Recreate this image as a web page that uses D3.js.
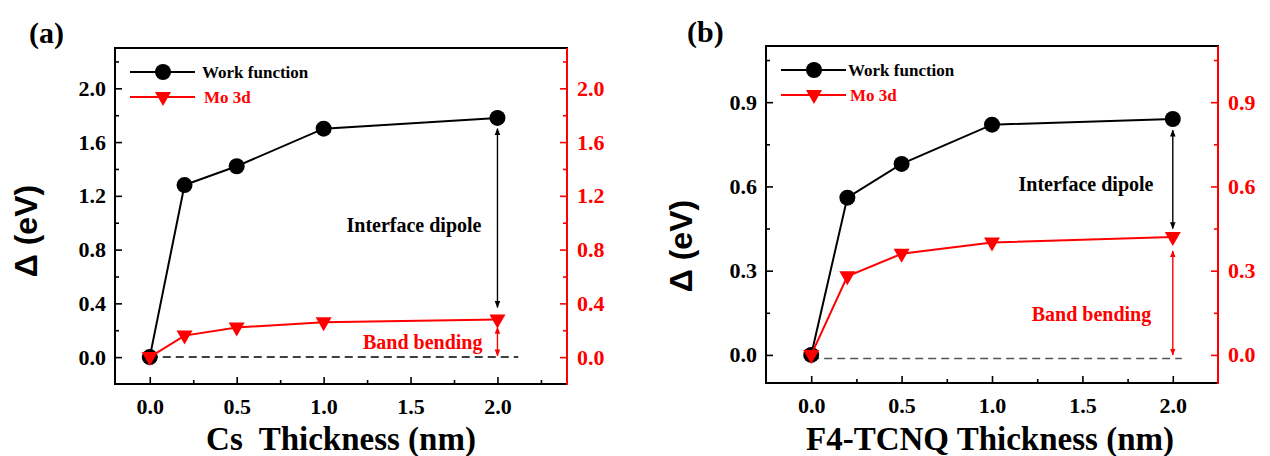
<!DOCTYPE html>
<html>
<head>
<meta charset="utf-8">
<script src="https://cdn.jsdelivr.net/npm/d3@7"></script>
<style>
  body { margin: 0; background: #fff; }
  svg { display: block; }
  .serif { font-family: "Liberation Serif", "Times New Roman", serif; font-weight: bold; }
</style>
</head>
<body>
<div id="chart"></div>
<script>
// data
const thickness = [0, 0.2, 0.5, 1.0, 2.0];

const workFunctionCs = [0, 1.28, 1.42, 1.70, 1.78];
const mo3dCs = [0, 0.16, 0.22, 0.26, 0.28];

const workFunctionF4 = [0, 0.56, 0.68, 0.82, 0.84];
const mo3dF4 = [0, 0.28, 0.36, 0.40, 0.42];

// ticks
const xTicks = [0, 0.5, 1.0, 1.5, 2.0];
const xMinorCs = [0.25, 0.75, 1.25, 1.75, 2.25];
const xMinorF4 = [0.25, 0.75, 1.25, 1.75];
const yTicksCs = [0, 0.4, 0.8, 1.2, 1.6, 2.0];
const yMinorCs = [0.2, 0.6, 1.0, 1.4, 1.8, 2.2];
const yTicksF4 = [0, 0.3, 0.6, 0.9];
const yMinorF4 = [0.15, 0.45, 0.75, 1.05];

// annotations (data units): [x, y1, y2]
const dipoleArrowCs = [2.0, 1.70, 0.37];
const bendArrowCs = [2.0, 0.22, 0.01];
const dipoleArrowF4 = [2.0, 0.80, 0.45];
const bendArrowF4 = [2.0, 0.37, 0.0];
const dipoleLabelCs = [1.52, 0.985];
const bendLabelCs = [1.57, 0.11];
const dipoleLabelF4 = [1.52, 0.61];
const bendLabelF4 = [1.55, 0.146];
const baseLineCs = [0, 2.12, 0];
const baseLineF4 = [0, 2.05, -0.013];

const red = '#ff0000';

const svg = d3.select('#chart').append('svg')
  .attr('width', 1270)
  .attr('height', 456);

svg.append('rect').attr('width', 1270).attr('height', 456).attr('fill', '#fff');

// arrow heads
const defs = svg.append('defs');
[['arrowBlack', '#000'], ['arrowRed', red]].forEach(([id, col]) => {
  defs.append('marker')
    .attr('id', id)
    .attr('viewBox', '0 0 10 10')
    .attr('refX', 9)
    .attr('refY', 5)
    .attr('markerWidth', 7)
    .attr('markerHeight', 7)
    .attr('markerUnits', 'userSpaceOnUse')
    .attr('orient', 'auto-start-reverse')
    .append('path')
    .attr('d', 'M0,1 L10,5 L0,9 Z')
    .attr('fill', col);
});

const triangle = 'M-8,-5 L8,-5 L0,9 Z';

function drawPanel(o) {
  const { left, top, right, bottom } = o.box;

  const x = d3.scaleLinear().domain(o.xDomain).range([left, right]);
  const y = d3.scaleLinear().domain(o.yDomain).range([bottom, top]);

  const g = svg.append('g');

  // frame
  g.append('rect')
    .attr('x', left).attr('y', top)
    .attr('width', right - left).attr('height', bottom - top)
    .attr('fill', 'none').attr('stroke', '#000').attr('stroke-width', 2);

  // axes, ticks point inward
  const styleAxis = (sel, col) => {
    sel.select('.domain').remove();
    sel.selectAll('line').attr('stroke', col).attr('stroke-width', 1.6);
    sel.selectAll('text')
      .attr('class', 'serif')
      .attr('font-size', 22)
      .attr('fill', col);
  };

  g.append('g')
    .attr('transform', `translate(0,${bottom})`)
    .call(d3.axisBottom(x).tickValues(xTicks).tickSize(-7).tickPadding(14).tickFormat(d3.format('.1f')))
    .call(s => styleAxis(s, '#000'));
  g.append('g')
    .attr('transform', `translate(0,${bottom})`)
    .call(d3.axisBottom(x).tickValues(o.xMinor).tickSize(-4).tickFormat(''))
    .call(s => styleAxis(s, '#000'));

  g.append('g')
    .attr('transform', `translate(${left},0)`)
    .call(d3.axisLeft(y).tickValues(o.yTicks).tickSize(-7).tickPadding(9).tickFormat(d3.format('.1f')))
    .call(s => styleAxis(s, '#000'));
  g.append('g')
    .attr('transform', `translate(${left},0)`)
    .call(d3.axisLeft(y).tickValues(o.yMinor).tickSize(-4).tickFormat(''))
    .call(s => styleAxis(s, '#000'));

  g.append('g')
    .attr('transform', `translate(${right},0)`)
    .call(d3.axisRight(y).tickValues(o.yTicks).tickSize(-7).tickPadding(10).tickFormat(d3.format('.1f')))
    .call(s => styleAxis(s, red));
  g.append('g')
    .attr('transform', `translate(${right},0)`)
    .call(d3.axisRight(y).tickValues(o.yMinor).tickSize(-4).tickFormat(''))
    .call(s => styleAxis(s, red));

  // red right spine
  g.append('line')
    .attr('x1', right).attr('x2', right)
    .attr('y1', top).attr('y2', bottom + 1)
    .attr('stroke', red).attr('stroke-width', 2);

  // zero reference line
  g.append('line')
    .attr('x1', x(o.baseLine[0])).attr('x2', x(o.baseLine[1]))
    .attr('y1', y(o.baseLine[2])).attr('y2', y(o.baseLine[2]))
    .attr('stroke', o.dashColor).attr('stroke-width', 1.5)
    .attr('stroke-dasharray', '8,5');

  // series
  const line = d3.line().x(d => x(d[0])).y(d => y(d[1]));
  const wf = thickness.map((t, i) => [t, o.workFunction[i]]);
  const mo = thickness.map((t, i) => [t, o.mo3d[i]]);

  g.append('path').datum(wf)
    .attr('d', line).attr('fill', 'none')
    .attr('stroke', '#000').attr('stroke-width', 2);
  g.selectAll('.wf-dot').data(wf).enter()
    .append('circle')
    .attr('class', 'wf-dot')
    .attr('cx', d => x(d[0])).attr('cy', d => y(d[1]))
    .attr('r', 8).attr('fill', '#000');

  g.append('path').datum(mo)
    .attr('d', line).attr('fill', 'none')
    .attr('stroke', red).attr('stroke-width', 2);
  g.selectAll('.mo-dot').data(mo).enter()
    .append('path')
    .attr('class', 'mo-dot')
    .attr('d', triangle)
    .attr('transform', d => `translate(${x(d[0])},${y(d[1])})`)
    .attr('fill', red);

  // double arrows
  const arrow = (a, col, id) => {
    g.append('line')
      .attr('x1', x(a[0])).attr('x2', x(a[0]))
      .attr('y1', y(a[1])).attr('y2', y(a[2]))
      .attr('stroke', col).attr('stroke-width', 1.4)
      .attr('marker-start', `url(#${id})`)
      .attr('marker-end', `url(#${id})`);
  };
  arrow(o.dipoleArrow, '#000', 'arrowBlack');
  arrow(o.bendArrow, red, 'arrowRed');

  g.append('text')
    .attr('class', 'serif')
    .attr('x', x(o.dipoleLabel[0])).attr('y', y(o.dipoleLabel[1]))
    .attr('dy', '0.35em')
    .attr('text-anchor', 'middle')
    .attr('font-size', 20)
    .text('Interface dipole');
  g.append('text')
    .attr('class', 'serif')
    .attr('x', x(o.bendLabel[0])).attr('y', y(o.bendLabel[1]))
    .attr('dy', '0.35em')
    .attr('text-anchor', 'middle')
    .attr('font-size', 20)
    .attr('fill', red)
    .text('Band bending');

  // legend
  const lg = g.append('g').attr('transform', `translate(${left},${top})`);
  const rows = [
    { label: 'Work function', col: '#000', dot: 'circle', dy: 24 },
    { label: 'Mo 3d', col: red, dot: 'tri', dy: 49 }
  ];
  rows.forEach(r => {
    lg.append('line')
      .attr('x1', 15).attr('x2', 80)
      .attr('y1', r.dy).attr('y2', r.dy)
      .attr('stroke', r.col).attr('stroke-width', 2);
    if (r.dot === 'circle') {
      lg.append('circle').attr('cx', 48).attr('cy', r.dy).attr('r', 8).attr('fill', r.col);
    } else {
      lg.append('path').attr('d', triangle)
        .attr('transform', `translate(48,${r.dy})`).attr('fill', r.col);
    }
    lg.append('text')
      .attr('class', 'serif')
      .attr('x', r.label === 'Mo 3d' ? o.legendTextX + 2 : o.legendTextX)
      .attr('y', r.dy).attr('dy', '0.35em')
      .attr('font-size', 17)
      .attr('fill', r.col)
      .text(r.label);
  });

  // titles
  svg.append('text')
    .attr('class', 'serif')
    .attr('x', o.tag[0]).attr('y', o.tag[1])
    .attr('font-size', 30)
    .text(o.tagText);

  svg.append('text')
    .attr('transform', `translate(${o.yTitle[0]},${o.yTitle[1]}) rotate(-90)`)
    .attr('text-anchor', 'middle')
    .attr('dy', '0.35em')
    .attr('font-family', '"Liberation Sans", Arial, sans-serif')
    .attr('font-weight', 'bold')
    .attr('font-size', 32)
    .text('\u0394 (eV)');

  svg.append('text')
    .attr('class', 'serif')
    .attr('x', (left + right) / 2 + o.xTitleShift).attr('y', 450)
    .attr('text-anchor', 'middle')
    .attr('font-size', 33)
    .style('white-space', 'pre')
    .text(o.xTitleText);
}

drawPanel({
  box: { left: 115, top: 48, right: 567, bottom: 384 },
  xDomain: [-0.2, 2.4],
  yDomain: [-0.2, 2.3],
  yTicks: yTicksCs, yMinor: yMinorCs, xMinor: xMinorCs,
  workFunction: workFunctionCs, mo3d: mo3dCs,
  baseLine: baseLineCs, dashColor: '#000',
  dipoleArrow: dipoleArrowCs, bendArrow: bendArrowCs,
  dipoleLabel: dipoleLabelCs, bendLabel: bendLabelCs,
  legendTextX: 87,
  tag: [29, 43], tagText: '(a)',
  yTitle: [26, 231],
  xTitleText: 'Cs  Thickness (nm)', xTitleShift: 0
});

drawPanel({
  box: { left: 766, top: 46, right: 1218, bottom: 383 },
  xDomain: [-0.25, 2.25],
  yDomain: [-0.1, 1.1],
  yTicks: yTicksF4, yMinor: yMinorF4, xMinor: xMinorF4,
  workFunction: workFunctionF4, mo3d: mo3dF4,
  baseLine: baseLineF4, dashColor: '#555',
  dipoleArrow: dipoleArrowF4, bendArrow: bendArrowF4,
  dipoleLabel: dipoleLabelF4, bendLabel: bendLabelF4,
  legendTextX: 82,
  tag: [687, 42], tagText: '(b)',
  yTitle: [681, 246],
  xTitleText: 'F4-TCNQ Thickness (nm)', xTitleShift: -2
});
</script>
</body>
</html>
